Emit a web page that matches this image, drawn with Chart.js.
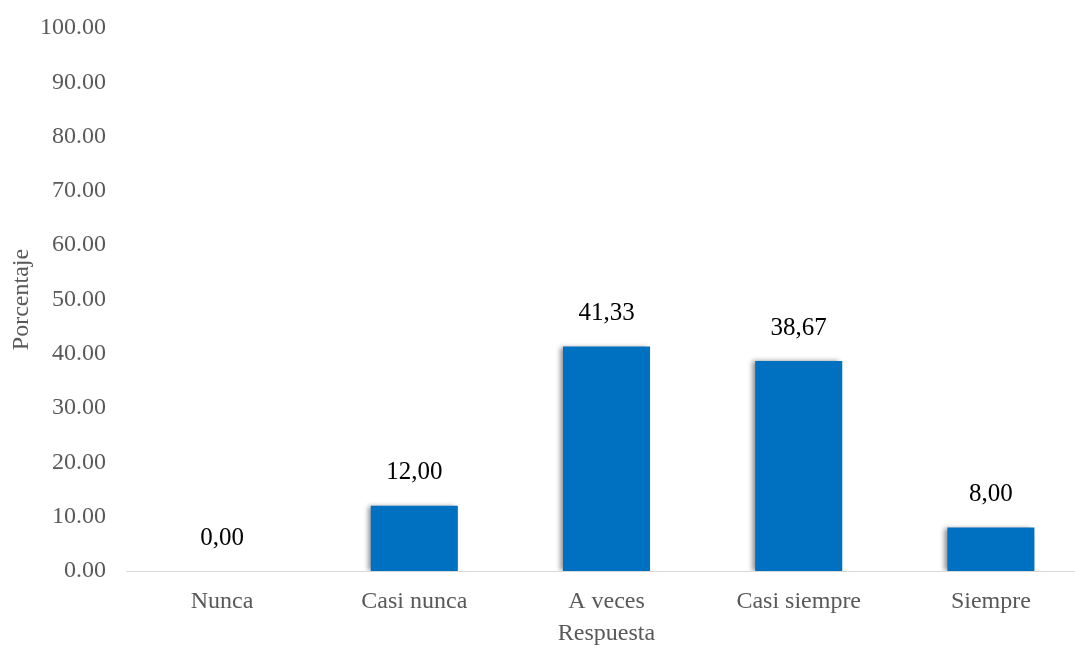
<!DOCTYPE html>
<html>
<head>
<meta charset="utf-8">
<script src="https://cdn.jsdelivr.net/npm/chart.js@4/dist/chart.umd.min.js"></script>
<style>
html,body{margin:0;padding:0;background:#fff;overflow:hidden;}
#wrap{position:absolute;left:0;top:0;width:1087px;height:648px;}
</style>
</head>
<body>
<div id="wrap"><canvas id="c" width="1087" height="648"></canvas></div>
<script>
const categories = ["Nunca", "Casi nunca", "A veces", "Casi siempre", "Siempre"];
const porcentajes = [0, 12.00, 41.33, 38.67, 8.00];
const yTicks = [0, 10, 20, 30, 40, 50, 60, 70, 80, 90, 100];

const FONT = "'Liberation Serif', 'Times New Roman', serif";
const GREY = "#595959";

const shadowPlugin = {
  id: 'barShadow',
  beforeDatasetsDraw(chart) {
    const ctx = chart.ctx;
    ctx.save();
    ctx.shadowColor = 'rgba(0,0,0,0.45)';
    ctx.shadowBlur = 5;
    ctx.shadowOffsetX = -3;
    ctx.shadowOffsetY = 0;
  },
  afterDatasetsDraw(chart) {
    chart.ctx.restore();
  }
};

const labelPlugin = {
  id: 'valueLabels',
  afterDatasetsDraw(chart) {
    const ctx = chart.ctx;
    const meta = chart.getDatasetMeta(0);
    ctx.save();
    ctx.font = "25px " + FONT;
    ctx.fillStyle = "#000";
    ctx.textAlign = "center";
    ctx.textBaseline = "middle";
    meta.data.forEach((bar, i) => {
      const v = chart.data.datasets[0].data[i];
      ctx.fillText(v.toFixed(2).replace('.', ','), bar.x, bar.y - 33);
    });
    ctx.restore();
  }
};

new Chart(document.getElementById('c'), {
  type: 'bar',
  data: {
    labels: categories,
    datasets: [{
      data: porcentajes,
      backgroundColor: '#0070C0',
      borderWidth: 0,
      categoryPercentage: 1.0,
      barPercentage: 0.453
    }]
  },
  plugins: [shadowPlugin, labelPlugin],
  options: {
    responsive: false,
    animation: false,
    devicePixelRatio: 1,
    layout: { padding: { top: 28, right: 0, left: 0, bottom: 0 } },
    plugins: { legend: { display: false }, tooltip: { enabled: false } },
    scales: {
      x: {
        grid: { display: false, drawTicks: false },
        border: { display: true, color: '#d9d9d9', width: 1 },
        ticks: { color: GREY, font: { family: FONT, size: 24 }, padding: 16 },
        title: { display: true, text: 'Respuesta', color: GREY, font: { family: FONT, size: 24 }, padding: 0 },
        afterFit(scale) { scale.height = 77; }
      },
      y: {
        min: 0, max: 100,
        afterBuildTicks(scale) { scale.ticks = yTicks.map(v => ({ value: v })); },
        grid: { display: false, drawTicks: false },
        border: { display: false },
        ticks: { color: GREY, font: { family: FONT, size: 24 }, padding: 20, callback: v => Number(v).toFixed(2) },
        title: { display: true, text: 'Porcentaje', color: GREY, font: { family: FONT, size: 24 }, padding: { top: 7, bottom: 0 } },
        afterFit(scale) { scale.width = 126; scale.paddingTop = 0; scale.paddingBottom = 0; }
      }
    }
  }
});
</script>
</body>
</html>
